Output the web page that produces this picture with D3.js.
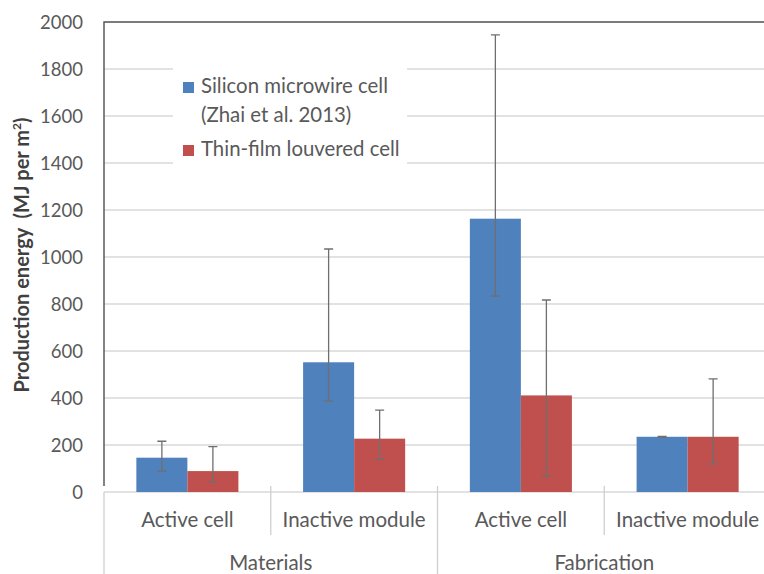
<!DOCTYPE html>
<html>
<head>
<meta charset="utf-8">
<script src="https://cdn.jsdelivr.net/npm/d3@7"></script>
<style>
  html, body { margin: 0; padding: 0; background: #fff; }
  svg { display: block; }
  text { font-family: Lato, "Open Sans", sans-serif; }
</style>
</head>
<body>
<svg id="chart" width="764" height="574"></svg>
<script>
// Production energy by stage and component, with error ranges
const groups = ["Materials", "Fabrication"];
const categories = ["Active cell", "Inactive module", "Active cell", "Inactive module"];
const categoryGroup = [0, 0, 1, 1];
const seriesNames = ["Silicon microwire cell", "Thin-film louvered cell"];
const legendLines = [["Silicon microwire cell", "(Zhai et al. 2013)"], ["Thin-film louvered cell"]];
const seriesColors = ["#4f81bd", "#c0504d"];

const microwireValues = [146, 552, 1163, 235];
const microwireLow = [89, 387, 834, 233];
const microwireHigh = [216, 1034, 1945, 237];

const louveredValues = [89, 227, 411, 235];
const louveredLow = [43, 139, 68, 120];
const louveredHigh = [193, 348, 817, 481];

const yTicks = [0, 200, 400, 600, 800, 1000, 1200, 1400, 1600, 1800, 2000];
const yTitle = "Production energy\u00a0 (MJ per m";

const series = [
  { name: seriesNames[0], values: microwireValues, low: microwireLow, high: microwireHigh, color: seriesColors[0] },
  { name: seriesNames[1], values: louveredValues, low: louveredLow, high: louveredHigh, color: seriesColors[1] }
];

const svg = d3.select("#chart");
const plot = { left: 104, right: 771, top: 22, bottom: 492 };

const y = d3.scaleLinear().domain([0, 2000]).range([plot.bottom, plot.top]);
const x = d3.scaleBand().domain(d3.range(categories.length)).range([plot.left, plot.right]).paddingInner(0).paddingOuter(0);
const barW = x.bandwidth() * 0.306;
const inner = d3.scaleBand().domain(d3.range(series.length)).range([-barW, barW]);

// gridlines
svg.append("g")
  .selectAll("line")
  .data(yTicks)
  .join("line")
  .attr("x1", plot.left).attr("x2", plot.right)
  .attr("y1", d => y(d)).attr("y2", d => y(d))
  .attr("stroke", "#d9d9d9").attr("stroke-width", 1.3);

// y axis labels
const yAxis = d3.axisLeft(y).tickValues(yTicks).tickFormat(d3.format("d")).tickSize(0).tickPadding(0);
const yg = svg.append("g").attr("transform", "translate(83,0)").call(yAxis);
yg.select(".domain").remove();
yg.selectAll("text").attr("fill", "#595959").attr("font-size", 18.5).attr("dy", "0.35em")
  .style("font-family", "Lato, sans-serif");

// plot border (left and top)
svg.append("path")
  .attr("d", `M${plot.left},486V${plot.top}H${plot.right}`)
  .attr("fill", "none").attr("stroke", "#595959").attr("stroke-width", 1.5);

// category axis separators
const sepColor = "#d0d0d0";
const edges = d3.range(categories.length + 1).map(i => i < categories.length ? x(i) : x(categories.length - 1) + x.bandwidth());
edges.forEach((ex, i) => {
  const major = i === 0 || i === categories.length || categoryGroup[i] !== categoryGroup[i - 1];
  svg.append("line")
    .attr("x1", ex).attr("x2", ex)
    .attr("y1", i === 0 ? 492 : 486).attr("y2", major ? 574 : 535)
    .attr("stroke", sepColor).attr("stroke-width", 1.3);
});

// bars
series.forEach((s, si) => {
  svg.append("g")
    .selectAll("rect")
    .data(s.values)
    .join("rect")
    .attr("x", (d, i) => x(i) + x.bandwidth() / 2 + inner(si))
    .attr("width", inner.bandwidth())
    .attr("y", d => y(d))
    .attr("height", d => y(0) - y(d))
    .attr("fill", s.color);
});

// error bars
const capHalf = 4.5;
series.forEach((s, si) => {
  const g = svg.append("g").attr("stroke", "#6f6f6f").attr("stroke-width", 1.3).attr("fill", "none");
  s.values.forEach((v, i) => {
    const cx = x(i) + x.bandwidth() / 2 + inner(si) + inner.bandwidth() / 2;
    g.append("path")
      .attr("d", `M${cx},${y(s.high[i])}V${y(s.low[i])}M${cx - capHalf},${y(s.high[i])}H${cx + capHalf}M${cx - capHalf},${y(s.low[i])}H${cx + capHalf}`);
  });
});

// category labels
svg.append("g")
  .selectAll("text")
  .data(categories)
  .join("text")
  .attr("x", (d, i) => x(i) + x.bandwidth() / 2)
  .attr("y", 527)
  .attr("text-anchor", "middle")
  .attr("fill", "#595959").attr("font-size", 20.5)
  .text(d => d);

// group labels
svg.append("g")
  .selectAll("text")
  .data(groups)
  .join("text")
  .attr("x", (d, gi) => {
    const idx = categoryGroup.map((g, i) => g === gi ? i : -1).filter(i => i >= 0);
    return (x(idx[0]) + x(idx[idx.length - 1]) + x.bandwidth()) / 2;
  })
  .attr("y", 570)
  .attr("text-anchor", "middle")
  .attr("fill", "#595959").attr("font-size", 20.5)
  .text(d => d);

// y axis title
const yt = svg.append("text")
  .attr("transform", `translate(29,255) rotate(-90)`)
  .attr("text-anchor", "middle")
  .attr("fill", "#404040").attr("font-size", 20).attr("font-weight", "bold");
yt.append("tspan").text(yTitle);
yt.append("tspan").attr("font-size", 12).attr("dy", -8).text("2");
yt.append("tspan").attr("dy", 8).text(")");

// legend
const legend = svg.append("g");
legend.append("rect").attr("x", 173).attr("y", 66).attr("width", 234).attr("height", 100).attr("fill", "#fff");
const legendRows = [93, 156];
series.forEach((s, si) => {
  legend.append("rect")
    .attr("x", 183).attr("y", legendRows[si] - 11)
    .attr("width", 11).attr("height", 11)
    .attr("fill", s.color);
  legendLines[si].forEach((line, li) => {
    legend.append("text")
      .attr("x", 201).attr("y", legendRows[si] + li * 29)
      .attr("fill", "#595959").attr("font-size", 20.4)
      .text(line);
  });
});
</script>
</body>
</html>
